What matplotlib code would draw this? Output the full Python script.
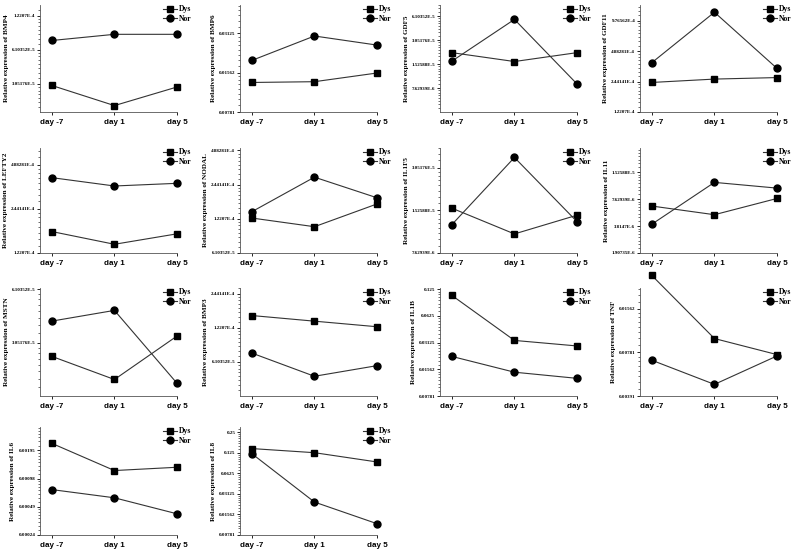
import matplotlib
matplotlib.use("Agg")
import matplotlib.pyplot as plt
import numpy as np
from matplotlib.ticker import LogLocator, FuncFormatter, NullFormatter

days = ["day -7", "day 1", "day 5"]

# gene name, Dys values, Nor values, y-limits, tick label style
genes = ["BMP4", "BMP6", "GDF5", "GDF11",
         "LEFTY2", "NODAL", "IL1F5", "IL11",
         "MSTN", "BMP3", "IL1B", "TNF",
         "IL6", "IL8"]

dys = [[2.96e-5, 1.97e-5, 2.87e-5],
       [0.01314, 0.01332, 0.01552],
       [2.12e-5, 1.64e-5, 2.12e-5],
       [2.39e-4, 2.58e-4, 2.67e-4],
       [1.71e-4, 1.40e-4, 1.65e-4],
       [1.24e-4, 1.04e-4, 1.65e-4],
       [1.58e-5, 1.04e-5, 1.41e-5],
       [6.37e-6, 5.10e-6, 7.74e-6],
       [2.55e-5, 1.89e-5, 3.32e-5],
       [1.57e-4, 1.40e-4, 1.25e-4],
       [0.106, 0.0330, 0.0286],
       [0.0266, 0.00975, 0.00755],
       [0.00232, 0.00119, 0.00129],
       [0.1436, 0.125, 0.0915]]

nor = [[7.36e-5, 8.34e-5, 8.34e-5],
       [0.01938, 0.02978, 0.02538],
       [1.66e-5, 5.54e-5, 8.58e-6],
       [3.75e-4, 1.179e-3, 3.29e-4],
       [3.99e-4, 3.50e-4, 3.65e-4],
       [1.41e-4, 2.84e-4, 1.87e-4],
       [1.21e-5, 3.60e-5, 1.27e-5],
       [4.00e-6, 1.17e-5, 1.01e-5],
       [4.03e-5, 4.63e-5, 1.80e-5],
       [7.31e-5, 4.56e-5, 5.66e-5],
       [0.0218, 0.01448, 0.01235],
       [0.00690, 0.00470, 0.00739],
       [7.45e-4, 6.09e-4, 4.11e-4],
       [0.1208, 0.0237, 0.01144]]

ylims = [(1.73e-5, 1.51e-4), (0.0078125, 0.0514), (3.815e-6, 8.40e-5), (1.2207e-4, 1.39e-3),
         (1.2207e-4, 6.36e-4), (6.1035e-5, 5.13e-4), (7.629e-6, 4.20e-5), (1.907e-6, 2.83e-5),
         (1.5259e-5, 6.19e-5), (3.0518e-5, 2.75e-4), (0.0078125, 0.1285), (0.00390625, 0.0218),
         (2.441e-4, 0.00347), (0.0078125, 0.297)]

styles = ["sci", "dec", "sci", "sci",
          "sci", "sci", "sci", "sci",
          "sci", "sci", "dec", "dec",
          "dec", "dec"]


def fmt_sci(v, pos):
    e = int(np.floor(np.log10(v)))
    m = v / 10 ** e
    s = f"{m:.5f}".rstrip("0").rstrip(".")
    return f"{s}E{e}"


def fmt_dec(v, pos):
    return f"{v:.5f}".rstrip("0").rstrip(".")


fig = plt.figure(figsize=(7.96, 5.52), dpi=100)

col_left = [40, 240, 440, 640]
row_box = [(5, 112), (148, 253), (288, 396), (427, 535)]
W, H = 796.0, 552.0
serif = "Liberation Serif"
sans = "Liberation Sans"

x = np.arange(len(days))
for i, g in enumerate(genes):
    r, c = divmod(i, 4)
    top, bot = row_box[r]
    ax = fig.add_axes([col_left[c] / W, 1 - bot / H, 137 / W, (bot - top) / H])
    ax.plot(x, dys[i], color="#333333", lw=0.8, marker="s", ms=4.3,
            mfc="black", mec="black", label="Dys", clip_on=False, zorder=3)
    ax.plot(x, nor[i], color="#333333", lw=0.8, marker="o", ms=5.0,
            mfc="black", mec="black", label="Nor", clip_on=False, zorder=3)
    ax.set_yscale("log", base=2)
    ax.set_ylim(*ylims[i])
    ax.set_xlim(-0.19, 2.0)
    ax.yaxis.set_major_locator(LogLocator(base=2, subs=(1.0,), numticks=40))
    ax.yaxis.set_minor_locator(LogLocator(base=2, subs=np.linspace(1, 2, 9)[1:-1], numticks=40))
    ax.yaxis.set_minor_formatter(NullFormatter())
    ax.yaxis.set_major_formatter(FuncFormatter(fmt_sci if styles[i] == "sci" else fmt_dec))
    ax.set_xticks(x)
    ax.set_xticklabels(days, fontfamily=sans, fontweight="bold", fontsize=5.8)
    for lab in ax.get_yticklabels():
        lab.set_fontfamily(serif)
        lab.set_fontweight("bold")
        lab.set_fontsize(3.6)
    ax.tick_params(axis="y", which="major", length=2.5, width=0.6, pad=1)
    ax.tick_params(axis="y", which="minor", length=1.2, width=0.4)
    ax.tick_params(axis="x", length=2.5, width=0.6, pad=2.5)
    ax.spines["top"].set_visible(False)
    ax.spines["right"].set_visible(False)
    for s in ("left", "bottom"):
        ax.spines[s].set_linewidth(0.6)
        ax.spines[s].set_color("#555555")
    ax.set_ylabel("Relative expression of " + g, fontfamily=serif,
                  fontweight="bold", fontsize=5.1, labelpad=2)
    ax.legend(loc="upper right", bbox_to_anchor=(1.14, 1.04), frameon=False,
              prop={"family": serif, "weight": "bold", "size": 5.5},
              handlelength=1.8, handletextpad=0.3, labelspacing=0.2, borderpad=0.1)

fig.savefig("out.png", dpi=100)
